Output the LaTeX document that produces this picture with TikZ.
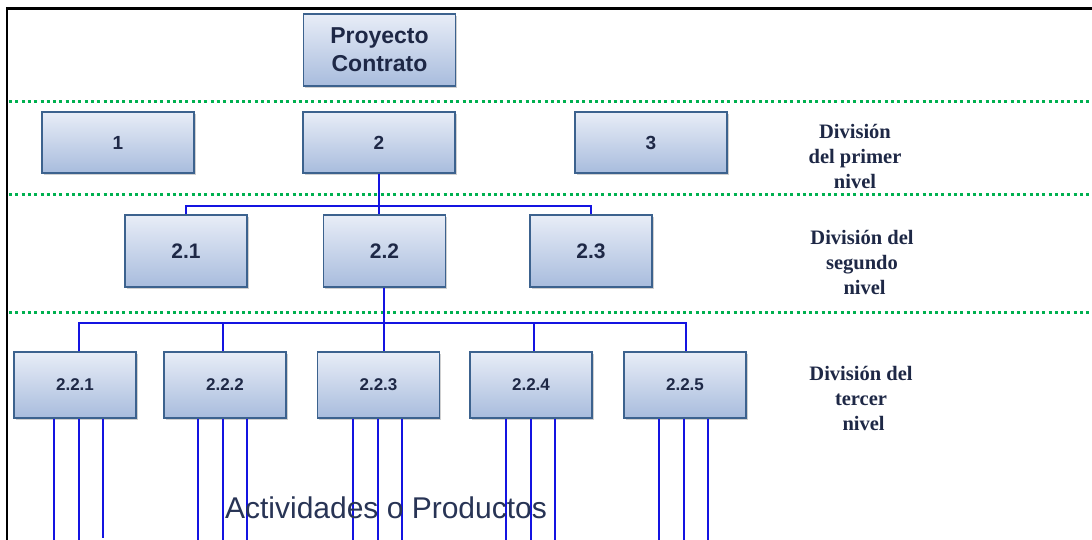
\documentclass[tikz,border=0pt]{standalone}
\usepackage{fontspec}
\setmainfont{Liberation Serif}
\setsansfont{Liberation Sans}
\usetikzlibrary{shadows}
\definecolor{boxtop}{RGB}{232,237,247}
\definecolor{boxbot}{RGB}{168,188,221}
\definecolor{boxedge}{RGB}{60,98,142}
\definecolor{navy}{RGB}{30,40,70}
\definecolor{lvlgreen}{RGB}{0,176,80}
\definecolor{conn}{RGB}{20,20,225}
\definecolor{acttext}{RGB}{40,52,85}
\tikzset{
  wbs/.style={draw=boxedge, line width=1.4pt, top color=boxtop, bottom color=boxbot,
    text=navy, align=center, inner sep=0pt,
    drop shadow={shadow xshift=1.5pt, shadow yshift=-2pt, opacity=0.3, fill=black!60}},
  lvlsep/.style={lvlgreen, line width=3pt, dash pattern=on 3pt off 3.3pt},
  link/.style={conn, line width=1.9pt},
  actline/.style={conn, line width=1.6pt},
  lvllabel/.style={text=navy, font=\rmfamily\bfseries\fontsize{20.5}{25}\selectfont, align=center},
}
\begin{document}
\begin{tikzpicture}[x=1pt,y=-1pt]
\useasboundingbox (0,0) rectangle (1092,540);
\fill[white] (0,0) rectangle (1092,540);
% frame
\draw[black, line width=2.5pt] (7,540) -- (7,8.5) -- (1092,8.5);
% level separators
\draw[lvlsep] (9,102) -- (1092,102);
\draw[lvlsep] (9,195) -- (1092,195);
\draw[lvlsep] (9,312) -- (1092,312);

% boxes
\node[wbs, minimum width=152pt, minimum height=72pt, font=\sffamily\bfseries\fontsize{23}{28}\selectfont] (pc) at (379.5,50) {Proyecto\\Contrato};
\node[wbs, minimum width=152pt, minimum height=61pt, font=\sffamily\bfseries\fontsize{19}{22}\selectfont] (n1) at (118,142.5) {1};
\node[wbs, minimum width=152pt, minimum height=61pt, font=\sffamily\bfseries\fontsize{19}{22}\selectfont] (n2) at (379,142.5) {2};
\node[wbs, minimum width=152pt, minimum height=61pt, font=\sffamily\bfseries\fontsize{19}{22}\selectfont] (n3) at (651,142.5) {3};

\node[wbs, minimum width=122pt, minimum height=72pt, font=\sffamily\bfseries\fontsize{21}{24}\selectfont] (n21) at (186,251) {2.1};
\node[wbs, minimum width=122pt, minimum height=72pt, font=\sffamily\bfseries\fontsize{21}{24}\selectfont] (n22) at (384.5,251) {2.2};
\node[wbs, minimum width=122pt, minimum height=72pt, font=\sffamily\bfseries\fontsize{21}{24}\selectfont] (n23) at (591,251) {2.3};

\foreach \nm/\cx/\lab in {n221/75/2.2.1, n222/225/2.2.2, n223/378.5/2.2.3, n224/531/2.2.4, n225/685/2.2.5}{
  \node[wbs, minimum width=122pt, minimum height=66pt, font=\sffamily\bfseries\fontsize{17}{20}\selectfont] (\nm) at (\cx,385) {\lab};
}

% connectors level 1 -> level 2
\draw[link] (n2.south) -- (n2.south |- n22.north);
\draw[link] (n21.north) -- ++(0,-8) -| (n23.north);

% connectors level 2 -> level 3
\draw[link] ([xshift=-0.5pt]n22.south) -- ([xshift=-0.5pt]n22.south |- n223.north);
\draw[link] ([xshift=4pt]n221.north) -- ++(0,-28) -| ([xshift=1pt]n225.north);
\draw[link] ([xshift=-2pt]n222.north) -- ++(0,-28);
\draw[link] ([xshift=3pt]n224.north) -- ++(0,-28);

% activity lines
\coordinate (n221-a) at ([xshift=-21pt]n221.south |- 0,540);
\coordinate (n221-b) at ([xshift=4pt]n221.south |- 0,540);
\coordinate (n221-c) at ([xshift=28pt]n221.south |- 0,538);
\draw[actline] ([xshift=-21pt]n221.south) -- (n221-a);
\draw[actline] ([xshift=4pt]n221.south) -- (n221-b);
\draw[actline] ([xshift=28pt]n221.south) -- (n221-c);
\foreach \nm/\d in {n222/-2,n223/-0.5,n224/0,n225/-1}{
  \draw[actline] ([xshift={(\d-25)*1pt}]\nm.south) -- ([xshift={(\d-25)*1pt}]\nm.south |- 0,540);
  \draw[actline] ([xshift={\d*1pt}]\nm.south) -- ([xshift={\d*1pt}]\nm.south |- 0,540);
  \draw[actline] ([xshift={(\d+24)*1pt}]\nm.south) -- ([xshift={(\d+24)*1pt}]\nm.south |- 0,540);
}

% level labels
\node[lvllabel] (l1) at (855,156) {División\\del primer\\nivel};
\node[lvllabel] (l2) at (862,262) {División del\\segundo\\\ nivel};
\node[lvllabel] (l3) at (861,398) {División del\\tercer\\\ nivel};

% activities text
\node[text=acttext, font=\sffamily\fontsize{30}{34}\selectfont, inner sep=0pt, anchor=base] (act) at (386,518) {Actividades o Productos};
\end{tikzpicture}
\end{document}
